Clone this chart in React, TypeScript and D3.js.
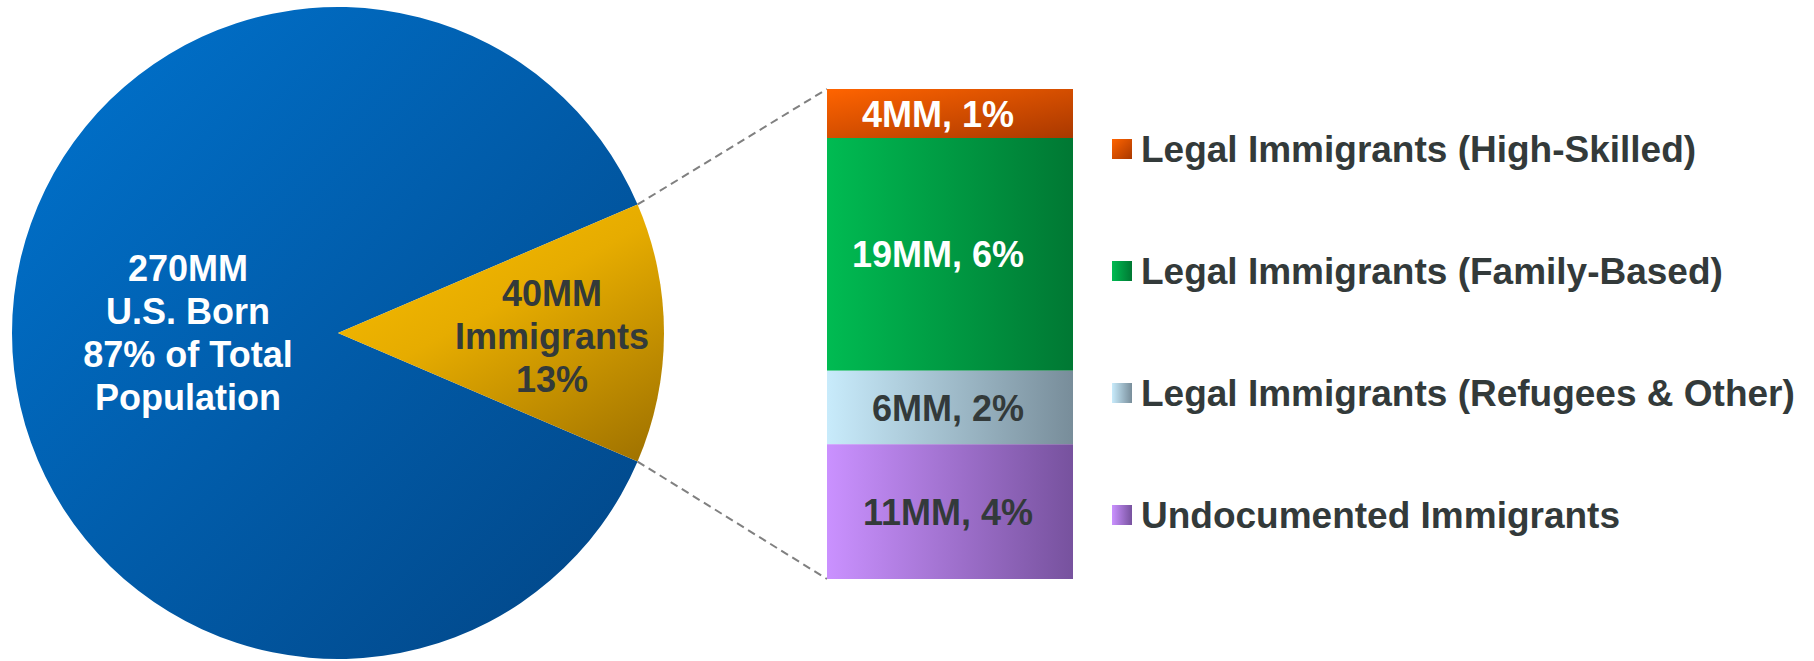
import React from "react";
import * as d3 from "d3";

const pieLabels = ["Immigrants", "U.S. Born"];
const pieValues = [40, 270];
const pieTextLines = [
  ["40MM", "Immigrants", "13%"],
  ["270MM", "U.S. Born", "87% of Total", "Population"],
];

const barCategories = [
  "Legal Immigrants (High-Skilled)",
  "Legal Immigrants (Family-Based)",
  "Legal Immigrants (Refugees & Other)",
  "Undocumented Immigrants",
];
const barValues = [4, 19, 6, 11];
const barTexts = ["4MM, 1%", "19MM, 6%", "6MM, 2%", "11MM, 4%"];

const W = 1814;
const H = 661;
const FONT = "'Liberation Sans', Arial, sans-serif";

export default function App() {
  const cx = 338;
  const cy = 333;
  const R = 326;
  const total = d3.sum(pieValues);
  const half = (pieValues[0] / total) * Math.PI;
  const pie = d3
    .pie<number>()
    .sort(null)
    .value((d) => d)
    .startAngle(Math.PI / 2 - half)
    .endAngle(Math.PI / 2 - half + 2 * Math.PI);
  const arcs = pie(pieValues);
  const arcGen = d3.arc<d3.PieArcDatum<number>>().innerRadius(0).outerRadius(R);

  const pt = (a: number, r: number) => [cx + r * Math.sin(a), cy - r * Math.cos(a)];
  const wedge = arcs[0];
  const pTop = pt(wedge.startAngle, R);
  const pBot = pt(wedge.endAngle, R);

  const barX0 = 827;
  const barX1 = 1073;
  const y = d3.scaleLinear().domain([0, d3.sum(barValues)]).range([89, 579]);
  const cum = barValues.reduce<number[]>((acc, v, i) => {
    acc.push((i === 0 ? 0 : acc[i - 1]) + v);
    return acc;
  }, []);
  const segs = barValues.map((v, i) => ({ y0: cum[i] - v, y1: cum[i], v }));

  const gradIds = ["gOrange", "gGreen", "gLight", "gPurple"];
  const textColors = ["#ffffff", "#ffffff", "#333a3a", "#333a3a"];

  const legendY = d3.scalePoint<string>().domain(barCategories).range([149, 515]);

  const lineH = 43;
  const imPos = pt((wedge.startAngle + wedge.endAngle) / 2, 214);

  return (
    <svg
      width={W}
      height={H}
      style={{ position: "absolute", left: 0, top: 0, background: "#fff" }}
      fontFamily={FONT}
    >
      <defs>
        <linearGradient id="gBlue" x1="0" y1="0" x2="1" y2="1">
          <stop offset="0" stopColor="#0074D0" />
          <stop offset="1" stopColor="#024585" />
        </linearGradient>
        <linearGradient id="gGold" x1="0.2" y1="0" x2="0.9" y2="1">
          <stop offset="0" stopColor="#F8BC00" />
          <stop offset="0.4" stopColor="#E6AC00" />
          <stop offset="1" stopColor="#A27400" />
        </linearGradient>
        <linearGradient id="gOrange" x1="0" y1="0" x2="1" y2="1">
          <stop offset="0" stopColor="#FF6400" />
          <stop offset="1" stopColor="#A93800" />
        </linearGradient>
        <linearGradient id="gGreen" x1="0" y1="0" x2="1" y2="0">
          <stop offset="0" stopColor="#00BB52" />
          <stop offset="1" stopColor="#007833" />
        </linearGradient>
        <linearGradient id="gLight" x1="0" y1="0" x2="1" y2="0">
          <stop offset="0" stopColor="#C8EBFB" />
          <stop offset="1" stopColor="#788D9A" />
        </linearGradient>
        <linearGradient id="gPurple" x1="0" y1="0" x2="1" y2="0">
          <stop offset="0" stopColor="#CA91FF" />
          <stop offset="1" stopColor="#77529E" />
        </linearGradient>
      </defs>

      <g transform={`translate(${cx},${cy})`}>
        <path d={arcGen(arcs[1]) || ""} fill="url(#gBlue)" />
        <path d={arcGen(arcs[0]) || ""} fill="url(#gGold)" />
      </g>

      <line x1={pTop[0]} y1={pTop[1]} x2={barX0} y2={y(0)} stroke="#808080" strokeWidth={2} strokeDasharray="8,5" />
      <line x1={pBot[0]} y1={pBot[1]} x2={barX0} y2={y(d3.sum(barValues))} stroke="#808080" strokeWidth={2} strokeDasharray="8,5" />

      <text fill="#fff" fontSize={36} fontWeight="bold" textAnchor="middle">
        {pieTextLines[1].map((t, i) => (
          <tspan key={t} x={188} y={cy - 52 + i * lineH}>
            {t}
          </tspan>
        ))}
      </text>
      <text fill="#333a3a" fontSize={36} fontWeight="bold" textAnchor="middle">
        {pieTextLines[0].map((t, i) => (
          <tspan key={t} x={imPos[0]} y={cy - 27 + i * lineH}>
            {t}
          </tspan>
        ))}
      </text>

      {segs.map((s, i) => (
        <g key={barCategories[i]}>
          <rect x={barX0} y={y(s.y0)} width={barX1 - barX0} height={y(s.y1) - y(s.y0)} fill={`url(#${gradIds[i]})`} />
          <text
            x={(barX0 + barX1) / 2 - (i < 2 ? 12 : 2)}
            y={(y(s.y0) + y(s.y1)) / 2 + 13}
            fill={textColors[i]}
            fontSize={36}
            fontWeight="bold"
            textAnchor="middle"
          >
            {barTexts[i]}
          </text>
        </g>
      ))}

      {barCategories.map((c, i) => (
        <g key={c}>
          <rect x={1112} y={(legendY(c) || 0) - 10} width={20} height={20} fill={`url(#${gradIds[i]})`} />
          <text x={1141} y={(legendY(c) || 0) + 13} fill="#333a3a" fontSize={37} fontWeight="bold">
            {c}
          </text>
        </g>
      ))}
    </svg>
  );
}
